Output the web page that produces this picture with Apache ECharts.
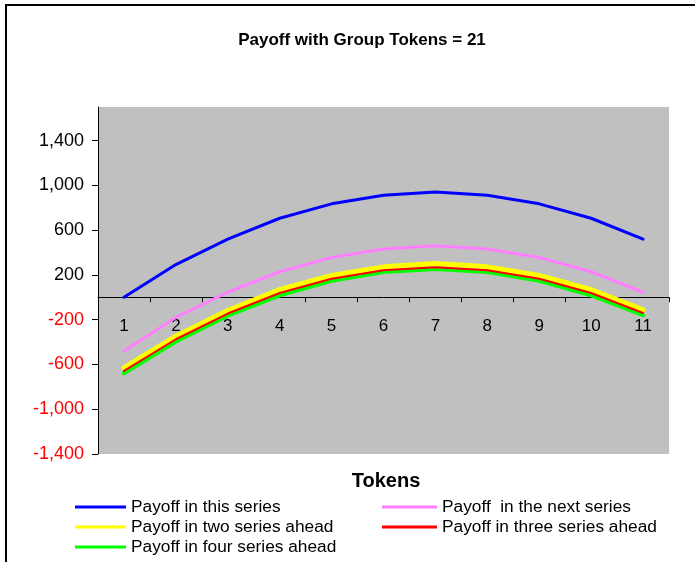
<!DOCTYPE html>
<html>
<head>
<meta charset="utf-8">
<script src="https://cdn.jsdelivr.net/npm/echarts@6/dist/echarts.min.js"></script>
<style>
  html, body { margin: 0; padding: 0; background: #ffffff; }
  #chart { width: 695px; height: 562px; }
</style>
</head>
<body>
<div id="chart"></div>
<script>
// Tokens contributed (x categories)
const tokens = ['1', '2', '3', '4', '5', '6', '7', '8', '9', '10', '11'];

// Payoff for each horizon
const payoffThis  = [0, 292, 520, 706, 835, 912, 940, 912, 835, 706, 520];
const payoffNext  = [-480, -180, 45, 228, 355, 432, 460, 432, 355, 228, 45];
const payoffTwo   = [-630, -348, -118, 68, 195, 272, 302, 272, 195, 68, -112];
const payoffThree = [-658, -375, -145, 38, 165, 242, 268, 242, 165, 38, -140];
const payoffFour  = [-680, -395, -165, 18, 148, 225, 252, 225, 148, 18, -160];

// Y tick values
const yTicks = [-1400, -1000, -600, -200, 200, 600, 1000, 1400];

const names = [
  'Payoff in this series',
  'Payoff  in the next series',
  'Payoff in two series ahead',
  'Payoff in three series ahead',
  'Payoff in four series ahead'
];

const FONT = '"Liberation Sans", Arial, sans-serif';

const chart = echarts.init(document.getElementById('chart'), null, { renderer: 'canvas' });

function lineSeries(name, data, color, width, z) {
  return {
    name: name,
    type: 'line',
    data: data,
    symbol: 'none',
    showSymbol: false,
    smooth: false,
    z: z,
    lineStyle: { color: color, width: width, cap: 'round', join: 'round' },
    itemStyle: { color: color }
  };
}

const legendText = { fontFamily: FONT, fontSize: 17.3, color: '#000', lineHeight: 20 };

chart.setOption({
  animation: false,
  backgroundColor: '#ffffff',
  title: {
    text: 'Payoff with Group Tokens = 21',
    left: 357,
    top: 27,
    textAlign: 'center',
    textStyle: { fontFamily: FONT, fontWeight: 'bold', fontSize: 17, color: '#000' }
  },
  graphic: [
    {
      type: 'rect',
      shape: { x: 6, y: 5, width: 800, height: 800 },
      style: { fill: 'none', stroke: '#000', lineWidth: 2 },
      silent: true
    },
    {
      type: 'text',
      x: 386,
      y: 481,
      style: {
        text: 'Tokens',
        fontFamily: FONT,
        fontWeight: 'bold',
        fontSize: 20,
        fill: '#000',
        textAlign: 'center',
        textVerticalAlign: 'middle'
      }
    }
  ],
  legend: [
    {
      orient: 'vertical',
      left: 75,
      top: 497,
      padding: 0,
      icon: 'rect',
      itemWidth: 51,
      itemHeight: 3,
      itemGap: 0,
      data: [names[0], names[2], names[4]],
      textStyle: legendText
    },
    {
      orient: 'vertical',
      left: 382,
      top: 497,
      padding: 0,
      icon: 'rect',
      itemWidth: 55,
      itemHeight: 3,
      itemGap: 0,
      data: [names[1], names[3]],
      textStyle: legendText
    }
  ],
  grid: {
    left: 98,
    right: 26,
    top: 107,
    bottom: 108,
    show: true,
    backgroundColor: '#C0C0C0',
    borderWidth: 0,
    containLabel: false
  },
  xAxis: {
    type: 'category',
    data: tokens,
    boundaryGap: true,
    axisLine: { onZero: true, lineStyle: { color: '#000', width: 1 } },
    axisTick: { show: true, alignWithLabel: false, length: 5, lineStyle: { color: '#000' } },
    // labels sit just under the zero line
    axisLabel: { fontFamily: FONT, fontSize: 17, color: '#000', margin: -136 },
    splitLine: { show: false }
  },
  yAxis: {
    type: 'value',
    min: -1400,
    max: 1700,
    interval: 400,
    axisLine: { show: true, lineStyle: { color: '#000', width: 1 } },
    axisTick: { show: true, length: 6, customValues: yTicks, lineStyle: { color: '#000' } },
    axisLabel: {
      customValues: yTicks,
      fontFamily: FONT,
      fontSize: 18,
      margin: 14,
      formatter: function (v) { return Number(v).toLocaleString('en-US'); },
      color: function (v) { return Number(v) < 0 ? '#FF0000' : '#000000'; }
    },
    splitLine: { show: false }
  },
  series: [
    lineSeries(names[0], payoffThis, '#0000FF', 3, 2),
    lineSeries(names[1], payoffNext, '#FF80FF', 3, 2),
    lineSeries(names[2], payoffTwo, '#FFFF00', 5, 2),
    lineSeries(names[3], payoffThree, '#FF0000', 2, 4),
    lineSeries(names[4], payoffFour, '#00FF00', 4, 3)
  ]
});
</script>
</body>
</html>
